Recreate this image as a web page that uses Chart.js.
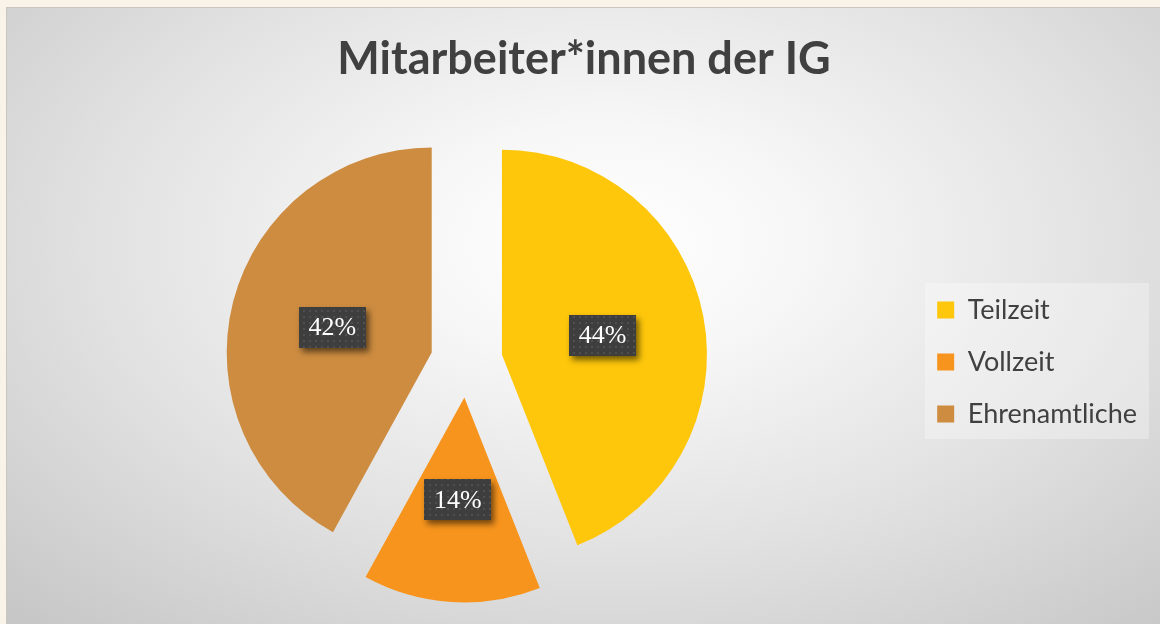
<!DOCTYPE html>
<html>
<head>
<meta charset="utf-8">
<script src="https://cdn.jsdelivr.net/npm/chart.js@4.4.1/dist/chart.umd.min.js"></script>
<style>
  html, body { margin: 0; padding: 0; background: #faf3e9; width: 1160px; height: 624px; overflow: hidden; }
  #frame {
    position: absolute; left: 6px; top: 7px; width: 1154px; height: 617px;
    border-left: 1px solid #c9c5c0; border-top: 1px solid #c9c5c0;
    background: radial-gradient(ellipse 75% 85% at 52% 38%, #ffffff 0%, #f7f7f7 22%, #e2e2e2 58%, #c6c6c6 100%);
  }
  canvas { display: block; }
</style>
</head>
<body>
<div id="frame"><canvas id="chart" width="1153" height="616"></canvas></div>
<script>
// Chart data
const chartTitle = 'Mitarbeiter*innen der IG';
const categories = ['Teilzeit', 'Vollzeit', 'Ehrenamtliche'];
const shares = [44, 14, 42];
const sliceColors = ['#FEC70B', '#F7941D', '#CD8C40'];

const EXPLODE = 36;     // how far each slice is pulled out
const PIE_RADIUS = 205;

// little dotted tile for the label boxes
function dotPattern(ctx) {
  const tile = document.createElement('canvas');
  tile.width = 6; tile.height = 6;
  const t = tile.getContext('2d');
  t.fillStyle = '#3e3e3e';
  t.fillRect(0, 0, 6, 6);
  t.fillStyle = '#4f4f4f';
  t.fillRect(2, 2, 2, 2);
  return ctx.createPattern(tile, 'repeat');
}

// draw every arc shifted outward along its middle angle
const explodePlugin = {
  id: 'explode',
  beforeDatasetDraw(chart, args) {
    const ctx = chart.ctx;
    args.meta.data.forEach(arc => {
      const mid = (arc.startAngle + arc.endAngle) / 2;
      ctx.save();
      ctx.translate(Math.cos(mid) * EXPLODE, Math.sin(mid) * EXPLODE);
      arc.draw(ctx, chart.chartArea);
      ctx.restore();
    });
    return false;
  }
};

// dark boxed percentage labels
const labelPlugin = {
  id: 'sliceLabels',
  afterDatasetsDraw(chart) {
    const ctx = chart.ctx;
    const meta = chart.getDatasetMeta(0);
    const pattern = dotPattern(ctx);
    meta.data.forEach((arc, i) => {
      const mid = (arc.startAngle + arc.endAngle) / 2;
      const dist = EXPLODE + arc.outerRadius / 2;
      const x = arc.x + Math.cos(mid) * dist;
      const y = arc.y + Math.sin(mid) * dist;
      const w = 67, h = 41;
      ctx.save();
      ctx.shadowColor = 'rgba(0,0,0,0.55)';
      ctx.shadowBlur = 6;
      ctx.shadowOffsetX = 3;
      ctx.shadowOffsetY = 4;
      ctx.fillStyle = pattern;
      ctx.fillRect(Math.round(x - w / 2), Math.round(y - h / 2), w, h);
      ctx.restore();
      ctx.save();
      ctx.fillStyle = '#ffffff';
      ctx.font = '26px "Liberation Serif", "DejaVu Serif", serif';
      ctx.textAlign = 'center';
      ctx.textBaseline = 'middle';
      ctx.fillText(shares[i] + '%', x, y + 1);
      ctx.restore();
    });
  }
};

// faint panel behind the legend
const legendPanel = {
  id: 'legendPanel',
  beforeDraw(chart) {
    const lg = chart.legend;
    if (!lg || !lg.legendHitBoxes || !lg.legendHitBoxes.length) return;
    const boxes = lg.legendHitBoxes;
    const first = boxes[0], last = boxes[boxes.length - 1];
    const top = first.top + first.height / 2 - 27;
    const bottom = last.top + last.height / 2 + 25;
    const ctx = chart.ctx;
    ctx.save();
    ctx.fillStyle = 'rgba(255,255,255,0.3)';
    ctx.fillRect(918, top, 1142 - 918, bottom - top);
    ctx.restore();
  }
};

new Chart(document.getElementById('chart'), {
  type: 'pie',
  data: {
    labels: categories,
    datasets: [{
      data: shares,
      backgroundColor: sliceColors,
      borderWidth: 0,
      radius: PIE_RADIUS
    }]
  },
  options: {
    responsive: false,
    animation: false,
    layout: { padding: { left: 14, right: 13, top: 0, bottom: 0 } },
    plugins: {
      title: {
        display: true,
        text: chartTitle,
        color: '#404040',
        font: { family: 'Lato', size: 45, weight: 'bold', lineHeight: 1.2 },
        padding: { top: 24, bottom: 13 }
      },
      legend: {
        position: 'right',
        title: {
          display: true,
          text: ' ',
          font: { size: 10, lineHeight: 1.2 },
          padding: { top: 40, bottom: 40 }
        },
        labels: {
          color: '#404040',
          font: { family: 'Lato', size: 27 },
          boxWidth: 17,
          boxHeight: 17,
          padding: 25
        }
      },
      tooltip: { enabled: false }
    }
  },
  plugins: [legendPanel, explodePlugin, labelPlugin]
});
</script>
</body>
</html>
